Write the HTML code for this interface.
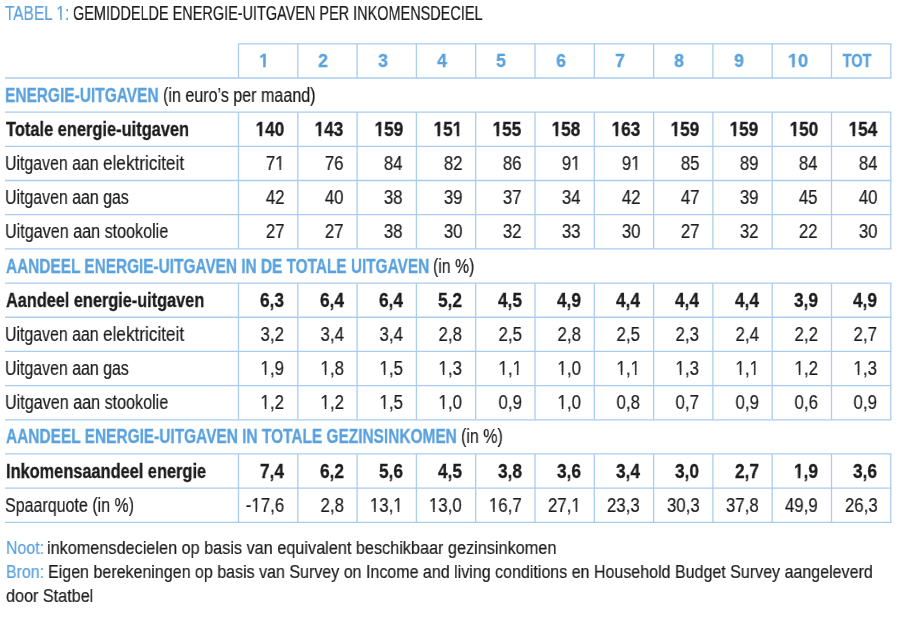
<!DOCTYPE html><html><head><meta charset="utf-8"><style>
html,body{margin:0;padding:0;background:#fff}
body{width:900px;height:618px;position:relative;overflow:hidden;font-family:"Liberation Sans",sans-serif;color:#1c1c1c}
.t{position:absolute;white-space:nowrap;line-height:1;transform-origin:0 0;will-change:transform;-webkit-text-stroke:0.2px currentColor}
.r{transform-origin:100% 0;text-align:right}
.c{transform-origin:50% 0;text-align:center}
.b{font-weight:bold;-webkit-text-stroke:0.3px currentColor}.bl{color:#5aa2dd}
svg{position:absolute;left:0;top:0}
.o{display:inline-block;clip-path:polygon(0 0,100% 0,100% 0.70em,61.3% 0.70em,61.3% 100%,45% 100%,45% 0.70em,0 0.70em)}
.ob{display:inline-block;clip-path:polygon(0 0,100% 0,100% 0.68em,66.8% 0.68em,66.8% 100%,41.8% 100%,41.8% 0.68em,0 0.68em)}
</style></head><body>
<svg width="900" height="618" viewBox="0 0 900 618"><g stroke="#aacdee" stroke-width="1.3" fill="none"><path d="M237.85 43.8H891.45"/><path d="M5 77.98H891.45"/><path d="M5 112.16H891.45"/><path d="M5 146.34H891.45"/><path d="M5 180.52H891.45"/><path d="M5 214.7H891.45"/><path d="M5 248.88H891.45"/><path d="M5 283.06H891.45"/><path d="M5 317.24H891.45"/><path d="M5 351.42H891.45"/><path d="M5 385.6H891.45"/><path d="M5 419.78H891.45"/><path d="M5 453.96H891.45"/><path d="M5 488.14H891.45"/><path d="M5 522.32H891.45"/><path d="M238.5 43.8V77.98"/><path d="M297.8 43.8V77.98"/><path d="M357.1 43.8V77.98"/><path d="M416.4 43.8V77.98"/><path d="M475.7 43.8V77.98"/><path d="M535 43.8V77.98"/><path d="M594.3 43.8V77.98"/><path d="M653.6 43.8V77.98"/><path d="M712.9 43.8V77.98"/><path d="M772.2 43.8V77.98"/><path d="M831.5 43.8V77.98"/><path d="M890.8 43.8V77.98"/><path d="M238.5 112.16V248.88"/><path d="M297.8 112.16V248.88"/><path d="M357.1 112.16V248.88"/><path d="M416.4 112.16V248.88"/><path d="M475.7 112.16V248.88"/><path d="M535 112.16V248.88"/><path d="M594.3 112.16V248.88"/><path d="M653.6 112.16V248.88"/><path d="M712.9 112.16V248.88"/><path d="M772.2 112.16V248.88"/><path d="M831.5 112.16V248.88"/><path d="M890.8 112.16V248.88"/><path d="M238.5 283.06V419.78"/><path d="M297.8 283.06V419.78"/><path d="M357.1 283.06V419.78"/><path d="M416.4 283.06V419.78"/><path d="M475.7 283.06V419.78"/><path d="M535 283.06V419.78"/><path d="M594.3 283.06V419.78"/><path d="M653.6 283.06V419.78"/><path d="M712.9 283.06V419.78"/><path d="M772.2 283.06V419.78"/><path d="M831.5 283.06V419.78"/><path d="M890.8 283.06V419.78"/><path d="M238.5 453.96V522.32"/><path d="M297.8 453.96V522.32"/><path d="M357.1 453.96V522.32"/><path d="M416.4 453.96V522.32"/><path d="M475.7 453.96V522.32"/><path d="M535 453.96V522.32"/><path d="M594.3 453.96V522.32"/><path d="M653.6 453.96V522.32"/><path d="M712.9 453.96V522.32"/><path d="M772.2 453.96V522.32"/><path d="M831.5 453.96V522.32"/><path d="M890.8 453.96V522.32"/></g></svg>
<div class="t bl" style="left:5.2px;top:4.309px;font-size:19.6px;transform:scaleX(0.787)">TABEL <span class="o">1</span>:</div>
<div class="t" style="left:73.062px;top:4.309px;font-size:19.6px;transform:scaleX(0.738)">GEMIDDELDE ENERGIE-UITGAVEN PER INKOMENSDECIEL</div>
<div class="t b bl" style="left:5.302px;top:85.658px;font-size:19.4px;transform:scaleX(0.798)">ENERGIE-UITGAVEN</div>
<div class="t" style="left:163.471px;top:85.658px;font-size:19.4px;transform:scaleX(0.829)">(in euro’s per maand)</div>
<div class="t b" style="left:5.8px;top:119.838px;font-size:19.4px;transform:scaleX(0.847)">Totale energie-uitgaven</div>
<div class="t" style="left:5.281px;top:154.018px;font-size:19.4px;transform:scaleX(0.819)">Uitgaven aan</div>
<div class="t" style="left:102.615px;top:154.018px;font-size:19.4px;transform:scaleX(0.885)">elektriciteit</div>
<div class="t" style="left:4.98px;top:188.198px;font-size:19.4px;transform:scaleX(0.82)">Uitgaven aan gas</div>
<div class="t" style="left:4.968px;top:222.378px;font-size:19.4px;transform:scaleX(0.832)">Uitgaven aan stookolie</div>
<div class="t b bl" style="left:6px;top:256.558px;font-size:19.4px;transform:scaleX(0.793)">AANDEEL ENERGIE-UITGAVEN IN DE TOTALE UITGAVEN</div>
<div class="t" style="left:433.384px;top:256.558px;font-size:19.4px;transform:scaleX(0.816)">(in %)</div>
<div class="t b" style="left:5.8px;top:290.738px;font-size:19.4px;transform:scaleX(0.84)">Aandeel energie-uitgaven</div>
<div class="t" style="left:5.281px;top:324.918px;font-size:19.4px;transform:scaleX(0.819)">Uitgaven aan</div>
<div class="t" style="left:102.615px;top:324.918px;font-size:19.4px;transform:scaleX(0.885)">elektriciteit</div>
<div class="t" style="left:4.98px;top:359.098px;font-size:19.4px;transform:scaleX(0.82)">Uitgaven aan gas</div>
<div class="t" style="left:4.968px;top:393.278px;font-size:19.4px;transform:scaleX(0.832)">Uitgaven aan stookolie</div>
<div class="t b bl" style="left:6px;top:427.458px;font-size:19.4px;transform:scaleX(0.796)">AANDEEL ENERGIE-UITGAVEN IN TOTALE GEZINSINKOMEN</div>
<div class="t" style="left:461.176px;top:427.458px;font-size:19.4px;transform:scaleX(0.824)">(in %)</div>
<div class="t b" style="left:5.656px;top:461.638px;font-size:19.4px;transform:scaleX(0.844)">Inkomensaandeel energie</div>
<div class="t" style="left:5.374px;top:495.818px;font-size:19.4px;transform:scaleX(0.826)">Spaarquote (in %)</div>
<div class="t bl" style="left:5.853px;top:538.986px;font-size:18.8px;transform:scaleX(0.847)">Noot:</div>
<div class="t" style="left:47.135px;top:538.986px;font-size:18.8px;transform:scaleX(0.865)">inkomensdecielen op basis van equivalent beschikbaar gezinsinkomen</div>
<div class="t bl" style="left:5.853px;top:563.086px;font-size:18.8px;transform:scaleX(0.847)">Bron:</div>
<div class="t" style="left:47.747px;top:563.086px;font-size:18.8px;transform:scaleX(0.853)">Eigen berekeningen op basis van Survey on Income and living conditions en Household Budget Survey aangeleverd</div>
<div class="t" style="left:5.838px;top:587.386px;font-size:18.8px;transform:scaleX(0.862)">door Statbel</div>
<div class="t c b bl" style="left:224.15px;width:80px;top:50.916px;font-size:19px;transform:scaleX(0.92)"><span class="ob">1</span></div>
<div class="t c b bl" style="left:283.45px;width:80px;top:50.916px;font-size:19px;transform:scaleX(0.92)">2</div>
<div class="t c b bl" style="left:342.75px;width:80px;top:50.916px;font-size:19px;transform:scaleX(0.92)">3</div>
<div class="t c b bl" style="left:402.05px;width:80px;top:50.916px;font-size:19px;transform:scaleX(0.92)">4</div>
<div class="t c b bl" style="left:461.35px;width:80px;top:50.916px;font-size:19px;transform:scaleX(0.92)">5</div>
<div class="t c b bl" style="left:520.65px;width:80px;top:50.916px;font-size:19px;transform:scaleX(0.92)">6</div>
<div class="t c b bl" style="left:579.95px;width:80px;top:50.916px;font-size:19px;transform:scaleX(0.92)">7</div>
<div class="t c b bl" style="left:639.25px;width:80px;top:50.916px;font-size:19px;transform:scaleX(0.92)">8</div>
<div class="t c b bl" style="left:698.55px;width:80px;top:50.916px;font-size:19px;transform:scaleX(0.92)">9</div>
<div class="t c b bl" style="left:757.85px;width:80px;top:50.916px;font-size:19px;transform:scaleX(0.96)"><span class="ob">1</span>0</div>
<div class="t c b bl" style="left:817.15px;width:80px;top:50.916px;font-size:19px;transform:scaleX(0.765)">TOT</div>
<div class="t r b" style="right:615.7px;top:119.838px;font-size:19.4px;transform:scaleX(0.89)"><span class="ob">1</span>40</div>
<div class="t r b" style="right:556.4px;top:119.838px;font-size:19.4px;transform:scaleX(0.89)"><span class="ob">1</span>43</div>
<div class="t r b" style="right:497.1px;top:119.838px;font-size:19.4px;transform:scaleX(0.89)"><span class="ob">1</span>59</div>
<div class="t r b" style="right:437.8px;top:119.838px;font-size:19.4px;transform:scaleX(0.89)"><span class="ob">1</span>5<span class="ob">1</span></div>
<div class="t r b" style="right:378.5px;top:119.838px;font-size:19.4px;transform:scaleX(0.89)"><span class="ob">1</span>55</div>
<div class="t r b" style="right:319.2px;top:119.838px;font-size:19.4px;transform:scaleX(0.89)"><span class="ob">1</span>58</div>
<div class="t r b" style="right:259.9px;top:119.838px;font-size:19.4px;transform:scaleX(0.89)"><span class="ob">1</span>63</div>
<div class="t r b" style="right:200.6px;top:119.838px;font-size:19.4px;transform:scaleX(0.89)"><span class="ob">1</span>59</div>
<div class="t r b" style="right:141.3px;top:119.838px;font-size:19.4px;transform:scaleX(0.89)"><span class="ob">1</span>59</div>
<div class="t r b" style="right:82px;top:119.838px;font-size:19.4px;transform:scaleX(0.89)"><span class="ob">1</span>50</div>
<div class="t r b" style="right:22.7px;top:119.838px;font-size:19.4px;transform:scaleX(0.89)"><span class="ob">1</span>54</div>
<div class="t r" style="right:615.7px;top:154.018px;font-size:19.4px;transform:scaleX(0.87)">7<span class="o">1</span></div>
<div class="t r" style="right:556.4px;top:154.018px;font-size:19.4px;transform:scaleX(0.87)">76</div>
<div class="t r" style="right:497.1px;top:154.018px;font-size:19.4px;transform:scaleX(0.87)">84</div>
<div class="t r" style="right:437.8px;top:154.018px;font-size:19.4px;transform:scaleX(0.87)">82</div>
<div class="t r" style="right:378.5px;top:154.018px;font-size:19.4px;transform:scaleX(0.87)">86</div>
<div class="t r" style="right:319.2px;top:154.018px;font-size:19.4px;transform:scaleX(0.87)">9<span class="o">1</span></div>
<div class="t r" style="right:259.9px;top:154.018px;font-size:19.4px;transform:scaleX(0.87)">9<span class="o">1</span></div>
<div class="t r" style="right:200.6px;top:154.018px;font-size:19.4px;transform:scaleX(0.87)">85</div>
<div class="t r" style="right:141.3px;top:154.018px;font-size:19.4px;transform:scaleX(0.87)">89</div>
<div class="t r" style="right:82px;top:154.018px;font-size:19.4px;transform:scaleX(0.87)">84</div>
<div class="t r" style="right:22.7px;top:154.018px;font-size:19.4px;transform:scaleX(0.87)">84</div>
<div class="t r" style="right:615.7px;top:188.198px;font-size:19.4px;transform:scaleX(0.87)">42</div>
<div class="t r" style="right:556.4px;top:188.198px;font-size:19.4px;transform:scaleX(0.87)">40</div>
<div class="t r" style="right:497.1px;top:188.198px;font-size:19.4px;transform:scaleX(0.87)">38</div>
<div class="t r" style="right:437.8px;top:188.198px;font-size:19.4px;transform:scaleX(0.87)">39</div>
<div class="t r" style="right:378.5px;top:188.198px;font-size:19.4px;transform:scaleX(0.87)">37</div>
<div class="t r" style="right:319.2px;top:188.198px;font-size:19.4px;transform:scaleX(0.87)">34</div>
<div class="t r" style="right:259.9px;top:188.198px;font-size:19.4px;transform:scaleX(0.87)">42</div>
<div class="t r" style="right:200.6px;top:188.198px;font-size:19.4px;transform:scaleX(0.87)">47</div>
<div class="t r" style="right:141.3px;top:188.198px;font-size:19.4px;transform:scaleX(0.87)">39</div>
<div class="t r" style="right:82px;top:188.198px;font-size:19.4px;transform:scaleX(0.87)">45</div>
<div class="t r" style="right:22.7px;top:188.198px;font-size:19.4px;transform:scaleX(0.87)">40</div>
<div class="t r" style="right:615.7px;top:222.378px;font-size:19.4px;transform:scaleX(0.87)">27</div>
<div class="t r" style="right:556.4px;top:222.378px;font-size:19.4px;transform:scaleX(0.87)">27</div>
<div class="t r" style="right:497.1px;top:222.378px;font-size:19.4px;transform:scaleX(0.87)">38</div>
<div class="t r" style="right:437.8px;top:222.378px;font-size:19.4px;transform:scaleX(0.87)">30</div>
<div class="t r" style="right:378.5px;top:222.378px;font-size:19.4px;transform:scaleX(0.87)">32</div>
<div class="t r" style="right:319.2px;top:222.378px;font-size:19.4px;transform:scaleX(0.87)">33</div>
<div class="t r" style="right:259.9px;top:222.378px;font-size:19.4px;transform:scaleX(0.87)">30</div>
<div class="t r" style="right:200.6px;top:222.378px;font-size:19.4px;transform:scaleX(0.87)">27</div>
<div class="t r" style="right:141.3px;top:222.378px;font-size:19.4px;transform:scaleX(0.87)">32</div>
<div class="t r" style="right:82px;top:222.378px;font-size:19.4px;transform:scaleX(0.87)">22</div>
<div class="t r" style="right:22.7px;top:222.378px;font-size:19.4px;transform:scaleX(0.87)">30</div>
<div class="t r b" style="right:615.7px;top:290.738px;font-size:19.4px;transform:scaleX(0.89)">6,3</div>
<div class="t r b" style="right:556.4px;top:290.738px;font-size:19.4px;transform:scaleX(0.89)">6,4</div>
<div class="t r b" style="right:497.1px;top:290.738px;font-size:19.4px;transform:scaleX(0.89)">6,4</div>
<div class="t r b" style="right:437.8px;top:290.738px;font-size:19.4px;transform:scaleX(0.89)">5,2</div>
<div class="t r b" style="right:378.5px;top:290.738px;font-size:19.4px;transform:scaleX(0.89)">4,5</div>
<div class="t r b" style="right:319.2px;top:290.738px;font-size:19.4px;transform:scaleX(0.89)">4,9</div>
<div class="t r b" style="right:259.9px;top:290.738px;font-size:19.4px;transform:scaleX(0.89)">4,4</div>
<div class="t r b" style="right:200.6px;top:290.738px;font-size:19.4px;transform:scaleX(0.89)">4,4</div>
<div class="t r b" style="right:141.3px;top:290.738px;font-size:19.4px;transform:scaleX(0.89)">4,4</div>
<div class="t r b" style="right:82px;top:290.738px;font-size:19.4px;transform:scaleX(0.89)">3,9</div>
<div class="t r b" style="right:22.7px;top:290.738px;font-size:19.4px;transform:scaleX(0.89)">4,9</div>
<div class="t r" style="right:615.7px;top:324.918px;font-size:19.4px;transform:scaleX(0.87)">3,2</div>
<div class="t r" style="right:556.4px;top:324.918px;font-size:19.4px;transform:scaleX(0.87)">3,4</div>
<div class="t r" style="right:497.1px;top:324.918px;font-size:19.4px;transform:scaleX(0.87)">3,4</div>
<div class="t r" style="right:437.8px;top:324.918px;font-size:19.4px;transform:scaleX(0.87)">2,8</div>
<div class="t r" style="right:378.5px;top:324.918px;font-size:19.4px;transform:scaleX(0.87)">2,5</div>
<div class="t r" style="right:319.2px;top:324.918px;font-size:19.4px;transform:scaleX(0.87)">2,8</div>
<div class="t r" style="right:259.9px;top:324.918px;font-size:19.4px;transform:scaleX(0.87)">2,5</div>
<div class="t r" style="right:200.6px;top:324.918px;font-size:19.4px;transform:scaleX(0.87)">2,3</div>
<div class="t r" style="right:141.3px;top:324.918px;font-size:19.4px;transform:scaleX(0.87)">2,4</div>
<div class="t r" style="right:82px;top:324.918px;font-size:19.4px;transform:scaleX(0.87)">2,2</div>
<div class="t r" style="right:22.7px;top:324.918px;font-size:19.4px;transform:scaleX(0.87)">2,7</div>
<div class="t r" style="right:615.7px;top:359.098px;font-size:19.4px;transform:scaleX(0.87)"><span class="o">1</span>,9</div>
<div class="t r" style="right:556.4px;top:359.098px;font-size:19.4px;transform:scaleX(0.87)"><span class="o">1</span>,8</div>
<div class="t r" style="right:497.1px;top:359.098px;font-size:19.4px;transform:scaleX(0.87)"><span class="o">1</span>,5</div>
<div class="t r" style="right:437.8px;top:359.098px;font-size:19.4px;transform:scaleX(0.87)"><span class="o">1</span>,3</div>
<div class="t r" style="right:378.5px;top:359.098px;font-size:19.4px;transform:scaleX(0.87)"><span class="o">1</span>,<span class="o">1</span></div>
<div class="t r" style="right:319.2px;top:359.098px;font-size:19.4px;transform:scaleX(0.87)"><span class="o">1</span>,0</div>
<div class="t r" style="right:259.9px;top:359.098px;font-size:19.4px;transform:scaleX(0.87)"><span class="o">1</span>,<span class="o">1</span></div>
<div class="t r" style="right:200.6px;top:359.098px;font-size:19.4px;transform:scaleX(0.87)"><span class="o">1</span>,3</div>
<div class="t r" style="right:141.3px;top:359.098px;font-size:19.4px;transform:scaleX(0.87)"><span class="o">1</span>,<span class="o">1</span></div>
<div class="t r" style="right:82px;top:359.098px;font-size:19.4px;transform:scaleX(0.87)"><span class="o">1</span>,2</div>
<div class="t r" style="right:22.7px;top:359.098px;font-size:19.4px;transform:scaleX(0.87)"><span class="o">1</span>,3</div>
<div class="t r" style="right:615.7px;top:393.278px;font-size:19.4px;transform:scaleX(0.87)"><span class="o">1</span>,2</div>
<div class="t r" style="right:556.4px;top:393.278px;font-size:19.4px;transform:scaleX(0.87)"><span class="o">1</span>,2</div>
<div class="t r" style="right:497.1px;top:393.278px;font-size:19.4px;transform:scaleX(0.87)"><span class="o">1</span>,5</div>
<div class="t r" style="right:437.8px;top:393.278px;font-size:19.4px;transform:scaleX(0.87)"><span class="o">1</span>,0</div>
<div class="t r" style="right:378.5px;top:393.278px;font-size:19.4px;transform:scaleX(0.87)">0,9</div>
<div class="t r" style="right:319.2px;top:393.278px;font-size:19.4px;transform:scaleX(0.87)"><span class="o">1</span>,0</div>
<div class="t r" style="right:259.9px;top:393.278px;font-size:19.4px;transform:scaleX(0.87)">0,8</div>
<div class="t r" style="right:200.6px;top:393.278px;font-size:19.4px;transform:scaleX(0.87)">0,7</div>
<div class="t r" style="right:141.3px;top:393.278px;font-size:19.4px;transform:scaleX(0.87)">0,9</div>
<div class="t r" style="right:82px;top:393.278px;font-size:19.4px;transform:scaleX(0.87)">0,6</div>
<div class="t r" style="right:22.7px;top:393.278px;font-size:19.4px;transform:scaleX(0.87)">0,9</div>
<div class="t r b" style="right:615.7px;top:461.638px;font-size:19.4px;transform:scaleX(0.89)">7,4</div>
<div class="t r b" style="right:556.4px;top:461.638px;font-size:19.4px;transform:scaleX(0.89)">6,2</div>
<div class="t r b" style="right:497.1px;top:461.638px;font-size:19.4px;transform:scaleX(0.89)">5,6</div>
<div class="t r b" style="right:437.8px;top:461.638px;font-size:19.4px;transform:scaleX(0.89)">4,5</div>
<div class="t r b" style="right:378.5px;top:461.638px;font-size:19.4px;transform:scaleX(0.89)">3,8</div>
<div class="t r b" style="right:319.2px;top:461.638px;font-size:19.4px;transform:scaleX(0.89)">3,6</div>
<div class="t r b" style="right:259.9px;top:461.638px;font-size:19.4px;transform:scaleX(0.89)">3,4</div>
<div class="t r b" style="right:200.6px;top:461.638px;font-size:19.4px;transform:scaleX(0.89)">3,0</div>
<div class="t r b" style="right:141.3px;top:461.638px;font-size:19.4px;transform:scaleX(0.89)">2,7</div>
<div class="t r b" style="right:82px;top:461.638px;font-size:19.4px;transform:scaleX(0.89)"><span class="ob">1</span>,9</div>
<div class="t r b" style="right:22.7px;top:461.638px;font-size:19.4px;transform:scaleX(0.89)">3,6</div>
<div class="t r" style="right:615.7px;top:495.818px;font-size:19.4px;transform:scaleX(0.87)">-<span class="o">1</span>7,6</div>
<div class="t r" style="right:556.4px;top:495.818px;font-size:19.4px;transform:scaleX(0.87)">2,8</div>
<div class="t r" style="right:497.1px;top:495.818px;font-size:19.4px;transform:scaleX(0.87)"><span class="o">1</span>3,<span class="o">1</span></div>
<div class="t r" style="right:437.8px;top:495.818px;font-size:19.4px;transform:scaleX(0.87)"><span class="o">1</span>3,0</div>
<div class="t r" style="right:378.5px;top:495.818px;font-size:19.4px;transform:scaleX(0.87)"><span class="o">1</span>6,7</div>
<div class="t r" style="right:319.2px;top:495.818px;font-size:19.4px;transform:scaleX(0.87)">27,<span class="o">1</span></div>
<div class="t r" style="right:259.9px;top:495.818px;font-size:19.4px;transform:scaleX(0.87)">23,3</div>
<div class="t r" style="right:200.6px;top:495.818px;font-size:19.4px;transform:scaleX(0.87)">30,3</div>
<div class="t r" style="right:141.3px;top:495.818px;font-size:19.4px;transform:scaleX(0.87)">37,8</div>
<div class="t r" style="right:82px;top:495.818px;font-size:19.4px;transform:scaleX(0.87)">49,9</div>
<div class="t r" style="right:22.7px;top:495.818px;font-size:19.4px;transform:scaleX(0.87)">26,3</div>
</body></html>
